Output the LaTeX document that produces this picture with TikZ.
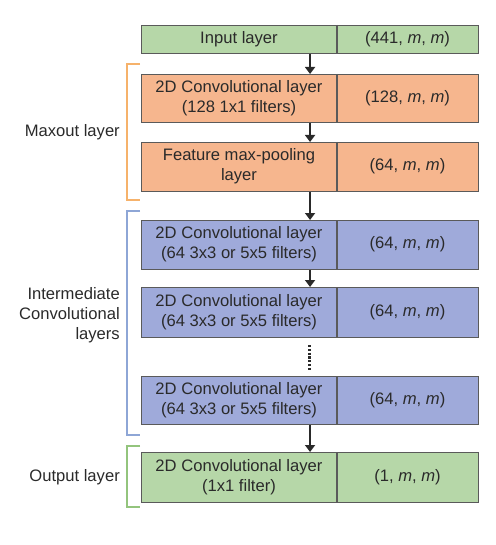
\documentclass[tikz,border=0pt]{standalone}
\usepackage{fontspec}
\setmainfont{Liberation Sans}
\usetikzlibrary{arrows.meta}
\definecolor{gfill}{HTML}{B6D7A8}
\definecolor{ofill}{HTML}{F6B68E}
\definecolor{bfill}{HTML}{9FAADA}
\definecolor{edge}{HTML}{5A5A5A}
\definecolor{obr}{HTML}{F6B26B}
\definecolor{bbr}{HTML}{8EA6D6}
\definecolor{gbr}{HTML}{93C47D}
\definecolor{txt}{HTML}{2A2A2A}
\begin{document}
\begin{tikzpicture}[x=1pt,y=-1pt,
  font=\fontsize{16.6}{20}\selectfont,
  rowbox/.style={draw=edge,line width=1.1pt,minimum width=337pt,inner sep=0pt,anchor=north west},
  cell/.style={text=txt,align=center,inner sep=0pt},
  lab/.style={text=txt,align=right,inner sep=0pt,anchor=east},
  flow/.style={line width=2.6pt,draw=txt,-{Triangle[length=7pt,width=10pt]}},
  brk/.style={line width=1.2pt}]
\useasboundingbox (0,0) rectangle (495,545);
% rows
\node[rowbox,fill=gfill,minimum height=28pt] (r0) at (141,25) {};
\node[rowbox,fill=ofill,minimum height=48pt] (r1) at (141,74) {};
\node[rowbox,fill=ofill,minimum height=49pt] (r2) at (141,142) {};
\node[rowbox,fill=bfill,minimum height=49pt] (r3) at (141,220) {};
\node[rowbox,fill=bfill,minimum height=50pt] (r4) at (141,287) {};
\node[rowbox,fill=bfill,minimum height=48pt] (r5) at (141,376) {};
\node[rowbox,fill=gfill,minimum height=50pt] (r6) at (141,452) {};
\foreach \r in {r0,r1,r2,r3,r4,r5,r6}{
  \draw[draw=edge,line width=1.1pt] (\r.north west) ++(196,0) coordinate (\r t) -- (\r.south west -| \r t);
}
% texts
\node[cell] (t0a) at (239,39) {Input layer};
\node[cell] (t0b) at (407.5,39) {(441, \textit{m}, \textit{m})};
\node[cell] (t1a) at (239,98) {2D Convolutional layer\\(128 1x1 filters)};
\node[cell] (t1b) at (407.5,98) {(128, \textit{m}, \textit{m})};
\node[cell] (t2a) at (239,166.5) {Feature max-pooling\\layer};
\node[cell] (t2b) at (407.5,166.5) {(64, \textit{m}, \textit{m})};
\node[cell] (t3a) at (239,244.5) {2D Convolutional layer\\(64 3x3 or 5x5 filters)};
\node[cell] (t3b) at (407.5,244.5) {(64, \textit{m}, \textit{m})};
\node[cell] (t4a) at (239,312) {2D Convolutional layer\\(64 3x3 or 5x5 filters)};
\node[cell] (t4b) at (407.5,312) {(64, \textit{m}, \textit{m})};
\node[cell] (t5a) at (239,400) {2D Convolutional layer\\(64 3x3 or 5x5 filters)};
\node[cell] (t5b) at (407.5,400) {(64, \textit{m}, \textit{m})};
\node[cell] (t6a) at (239,477) {2D Convolutional layer\\(1x1 filter)};
\node[cell] (t6b) at (407.5,477) {(1, \textit{m}, \textit{m})};
% arrows
\draw[flow] (r0.south) -- (r1.north);
\draw[flow] (r1.south) -- (r2.north);
\draw[flow] (r2.south) -- (r3.north);
\draw[flow] (r3.south) -- (r4.north);
\draw[flow] (r5.south) -- (r6.north);
% dots
\coordinate (d1) at (309.5,345);
\coordinate (d2) at (309.5,370);
\draw[line width=2.8pt,draw=txt,dash pattern=on 2.2pt off 1.6pt] (d1) -- (d2);
% brackets
\draw[brk,draw=obr] (140,64) -- (127,64) -- (127,200) -- (140,200);
\draw[brk,draw=bbr] (140,211) -- (127,211) -- (127,435) -- (140,435);
\draw[brk,draw=gbr] (140,446) -- (127,446) -- (127,507) -- (140,507);
% labels
\node[lab] (l1) at (120,132) {Maxout layer};
\node[lab] (l2) at (120,315) {Intermediate\\Convolutional\\layers};
\node[lab] (l3) at (120,477) {Output layer};
\end{tikzpicture}
\end{document}
